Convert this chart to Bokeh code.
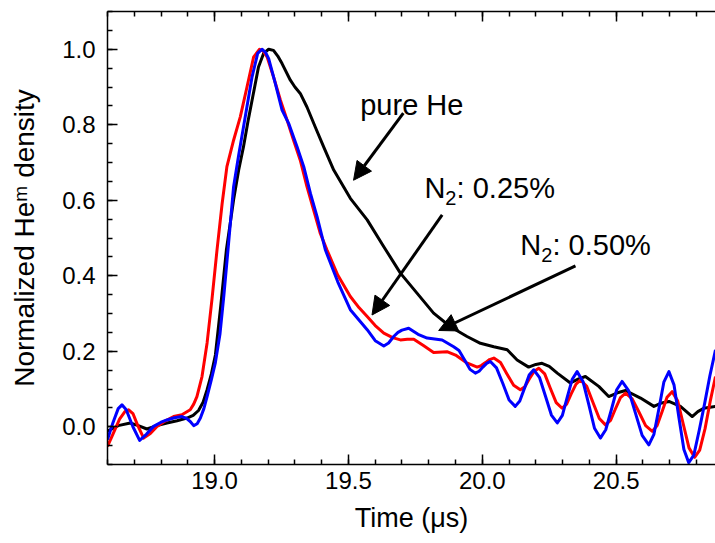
from bokeh.plotting import figure
from bokeh.models import (Range1d, LinearAxis, SingleIntervalTicker, PrintfTickFormatter,
                          Label, Arrow, NormalHead, CustomLabelingPolicy)
from bokeh.embed import file_html
from bokeh.resources import INLINE

# ---------------- data ----------------
black_t = [18.600, 18.640, 18.685, 18.715, 18.747, 18.785, 18.822, 18.860, 18.897, 18.920,
           18.940, 18.957, 18.972, 18.988, 19.003, 19.023, 19.044, 19.071, 19.090, 19.108,
           19.125, 19.140, 19.164, 19.183, 19.202, 19.220, 19.236, 19.252, 19.283, 19.300,
           19.320, 19.345, 19.376, 19.407, 19.445, 19.507, 19.570, 19.632, 19.694, 19.756,
           19.818, 19.881, 19.943, 19.993, 20.043, 20.093, 20.130, 20.173, 20.200, 20.223,
           20.250, 20.280, 20.329, 20.360, 20.385, 20.435, 20.472, 20.505, 20.535, 20.591,
           20.641, 20.670, 20.697, 20.740, 20.784, 20.805, 20.827, 20.871]
black_n = [-0.012, 0.003, 0.010, 0.003, -0.006, 0.003, 0.010, 0.016, 0.023, 0.030,
           0.043, 0.065, 0.098, 0.140, 0.190, 0.320, 0.468, 0.601, 0.680, 0.742,
           0.810, 0.865, 0.953, 0.989, 1.000, 0.997, 0.982, 0.962, 0.918, 0.900,
           0.883, 0.847, 0.794, 0.742, 0.680, 0.605, 0.548, 0.477, 0.407, 0.354,
           0.301, 0.265, 0.239, 0.221, 0.212, 0.204, 0.177, 0.158, 0.165, 0.168,
           0.160, 0.142, 0.116, 0.127, 0.133, 0.107, 0.080, 0.090, 0.096, 0.076,
           0.054, 0.063, 0.067, 0.054, 0.027, 0.040, 0.049, 0.054]

red_t = [18.600, 18.620, 18.645, 18.665, 18.679, 18.695, 18.712, 18.735, 18.760, 18.785,
         18.815, 18.847, 18.878, 18.909, 18.922, 18.934, 18.953, 18.972, 18.990, 19.009,
         19.028, 19.046, 19.071, 19.096, 19.121, 19.146, 19.168, 19.182, 19.196, 19.220,
         19.246, 19.271, 19.295, 19.320, 19.345, 19.370, 19.395, 19.420, 19.460, 19.507,
         19.540, 19.570, 19.600, 19.632, 19.665, 19.694, 19.720, 19.744, 19.780, 19.818,
         19.868, 19.900, 19.940, 19.981, 19.996, 20.012, 20.027, 20.043, 20.068, 20.092,
         20.117, 20.142, 20.159, 20.176, 20.194, 20.211, 20.233, 20.254, 20.276, 20.298,
         20.315, 20.332, 20.350, 20.367, 20.390, 20.413, 20.437, 20.460, 20.479, 20.497,
         20.516, 20.535, 20.560, 20.585, 20.610, 20.635, 20.653, 20.672, 20.690, 20.709,
         20.730, 20.751, 20.772, 20.793, 20.812, 20.832, 20.852, 20.871]
red_n = [-0.052, -0.020, 0.020, 0.040, 0.045, 0.035, 0.005, -0.030, -0.018, 0.001,
         0.015, 0.027, 0.032, 0.045, 0.060, 0.080, 0.133, 0.222, 0.336, 0.468,
         0.590, 0.689, 0.759, 0.821, 0.900, 0.980, 1.000, 0.995, 0.980, 0.927,
         0.865, 0.812, 0.759, 0.706, 0.636, 0.574, 0.512, 0.468, 0.402, 0.345,
         0.315, 0.292, 0.268, 0.248, 0.236, 0.230, 0.232, 0.232, 0.215, 0.197,
         0.199, 0.190, 0.170, 0.158, 0.162, 0.170, 0.178, 0.182, 0.170, 0.140,
         0.110, 0.098, 0.106, 0.127, 0.147, 0.155, 0.140, 0.102, 0.064, 0.049,
         0.060, 0.087, 0.113, 0.124, 0.107, 0.065, 0.022, 0.005, 0.017, 0.047,
         0.077, 0.089, 0.074, 0.039, 0.003, -0.012, 0.003, 0.041, 0.078, 0.093,
         0.068, 0.006, -0.056, -0.081, -0.062, -0.005, 0.070, 0.133]

blue_t = [18.600, 18.620, 18.640, 18.654, 18.670, 18.695, 18.720, 18.745, 18.772, 18.800,
          18.822, 18.850, 18.878, 18.895, 18.909, 18.922, 18.935, 18.947, 18.960, 18.972,
          18.988, 19.003, 19.020, 19.035, 19.050, 19.071, 19.090, 19.108, 19.125, 19.140,
          19.161, 19.177, 19.190, 19.202, 19.227, 19.252, 19.277, 19.308, 19.333, 19.358,
          19.383, 19.414, 19.460, 19.507, 19.570, 19.600, 19.632, 19.650, 19.669, 19.685,
          19.700, 19.725, 19.760, 19.794, 19.850, 19.893, 19.913, 19.934, 19.954, 19.974,
          19.988, 20.002, 20.016, 20.030, 20.053, 20.077, 20.100, 20.123, 20.140, 20.158,
          20.175, 20.192, 20.214, 20.236, 20.258, 20.280, 20.299, 20.317, 20.336, 20.354,
          20.376, 20.398, 20.419, 20.441, 20.461, 20.482, 20.502, 20.522, 20.547, 20.572,
          20.597, 20.622, 20.641, 20.660, 20.678, 20.697, 20.716, 20.734, 20.753, 20.771,
          20.790, 20.810, 20.830, 20.850, 20.871]
blue_n = [-0.034, 0.010, 0.048, 0.058, 0.045, 0.000, -0.036, -0.020, 0.001, 0.012,
          0.018, 0.024, 0.027, 0.022, 0.014, 0.003, 0.008, 0.023, 0.048, 0.080,
          0.125, 0.170, 0.245, 0.350, 0.468, 0.636, 0.720, 0.794, 0.865, 0.927,
          0.989, 1.000, 0.992, 0.975, 0.909, 0.839, 0.803, 0.742, 0.689, 0.618,
          0.556, 0.468, 0.384, 0.310, 0.257, 0.228, 0.214, 0.222, 0.239, 0.250,
          0.256, 0.261, 0.245, 0.235, 0.230, 0.212, 0.202, 0.177, 0.152, 0.142,
          0.147, 0.158, 0.168, 0.173, 0.156, 0.114, 0.071, 0.054, 0.068, 0.103,
          0.137, 0.151, 0.130, 0.081, 0.031, 0.010, 0.030, 0.078, 0.126, 0.146,
          0.120, 0.058, -0.004, -0.030, -0.008, 0.045, 0.098, 0.120, 0.095, 0.036,
          -0.023, -0.048, -0.020, 0.049, 0.118, 0.146, 0.111, 0.026, -0.060, -0.095,
          -0.075, -0.010, 0.060, 0.135, 0.204]

x_ticks_interval = 0.5
y_ticks_interval = 0.2

FONT = "Liberation Sans"

p = figure(width=715, height=543, output_backend="svg", toolbar_location=None,
           x_range=Range1d(18.6, 20.871), y_range=Range1d(-0.1, 1.1),
           min_border_left=107, min_border_right=0, min_border_top=11, min_border_bottom=79)
p.outline_line_color = None
p.xgrid.visible = False
p.ygrid.visible = False
p.background_fill_color = "white"
p.border_fill_color = "white"

def style_axis(ax):
    ax.axis_line_width = 1.5
    ax.axis_line_color = "black"
    ax.major_tick_line_width = 1.5
    ax.minor_tick_line_width = 1.5
    ax.major_tick_line_color = "black"
    ax.minor_tick_line_color = "black"
    ax.major_tick_in = 10
    ax.major_tick_out = 0
    ax.minor_tick_in = 5
    ax.minor_tick_out = 0
    ax.major_label_text_font = FONT
    ax.major_label_text_font_size = "24px"
    ax.major_label_text_color = "black"
    ax.formatter = PrintfTickFormatter(format="%.1f")

xa = p.xaxis[0]
style_axis(xa)
xa.ticker = SingleIntervalTicker(interval=x_ticks_interval, num_minor_ticks=5)
xa.major_label_standoff = 7
xa.axis_label = "Time (μs)"
xa.axis_label_text_font = FONT
xa.axis_label_text_font_size = "27px"
xa.axis_label_text_font_style = "normal"
xa.axis_label_text_color = "black"
xa.axis_label_standoff = 11

ya = p.yaxis[0]
style_axis(ya)
ya.ticker = SingleIntervalTicker(interval=y_ticks_interval, num_minor_ticks=4)
ya.major_label_standoff = 12
ya.axis_label = "Normalized Heᵐ density"
ya.axis_label_text_font = FONT
ya.axis_label_text_font_size = "28px"
ya.axis_label_text_font_style = "normal"
ya.axis_label_text_color = "black"
ya.axis_label_standoff = 19

top = LinearAxis(ticker=SingleIntervalTicker(interval=x_ticks_interval, num_minor_ticks=5))
style_axis(top)
top.major_label_text_font_size = "0px"
top.major_label_standoff = 0
top.major_label_policy = CustomLabelingPolicy(code="""
for (const i of Array.from(indices)) indices.unset(i)
return indices
""")
p.add_layout(top, "above")

p.line(black_t, black_n, line_color="black", line_width=3, line_join="round")
p.line(red_t, red_n, line_color="red", line_width=3, line_join="round")
p.line(blue_t, blue_n, line_color="blue", line_width=3, line_join="round")

# ---------- annotations ----------
def lab(x, y, text, size):
    p.add_layout(Label(x=x, y=y, text=text, text_font=FONT, text_font_size=size,
                       text_color="black", text_baseline="alphabetic", text_align="left"))

lab(19.544, 0.852, "pure He", "29px")
lab(19.784, 0.632, "N", "29px")
lab(19.862, 0.606, "2", "20px")
lab(19.904, 0.632, ": 0.25%", "29px")
lab(20.142, 0.481, "N", "29px")
lab(20.220, 0.455, "2", "20px")
lab(20.262, 0.481, ": 0.50%", "29px")

for (x0, y0, x1, y1) in [(19.705, 0.831, 19.519, 0.653),
                         (19.850, 0.561, 19.588, 0.296),
                         (20.348, 0.426, 19.837, 0.255)]:
    p.add_layout(Arrow(x_start=x0, y_start=y0, x_end=x1, y_end=y1, line_width=3,
                       line_color="black",
                       end=NormalHead(size=18, fill_color="black", line_color="black")))

open("out.html", "w").write(file_html(p, INLINE))
